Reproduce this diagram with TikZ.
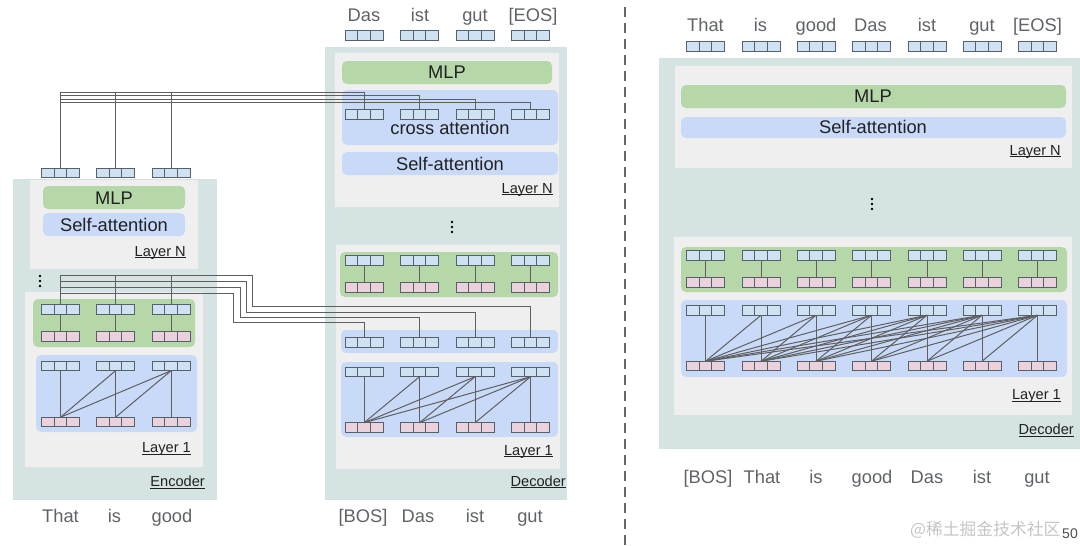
\documentclass[tikz,border=0pt]{standalone}
\usepackage{fontspec}
\setmainfont{Liberation Sans}
\newfontfamily\cjkfont{Noto Sans CJK SC}
\usetikzlibrary{calc}

\definecolor{outerc}{HTML}{D5E3E2}
\definecolor{innerc}{HTML}{EFEFEF}
\definecolor{greenc}{HTML}{B6D7A8}
\definecolor{bluec}{HTML}{C9DAF8}
\definecolor{tokbluec}{HTML}{CFE2F3}
\definecolor{tokpinkc}{HTML}{EAD1DC}
\definecolor{toklinec}{HTML}{56606B}
\definecolor{wirec}{HTML}{5F5F5F}
\definecolor{labc}{HTML}{5F6368}
\definecolor{dashc}{HTML}{666666}
\definecolor{txtc}{HTML}{202124}
\definecolor{wmc}{HTML}{C4C4C4}

\newcommand\myul[1]{\setbox0\hbox{#1}\rlap{\rule[-2.2pt]{\wd0}{1pt}}\box0}

\tikzset{
  tokbase/.style={draw=toklinec, line width=0.9pt, minimum width=38pt, minimum height=9.5pt,
    inner sep=0pt, outer sep=0pt,
    path picture={\draw[toklinec,line width=0.9pt]
      ([xshift=12.667pt]path picture bounding box.south west) -- ([xshift=12.667pt]path picture bounding box.north west)
      ([xshift=25.333pt]path picture bounding box.south west) -- ([xshift=25.333pt]path picture bounding box.north west);}},
  tokblue/.style={tokbase, fill=tokbluec},
  tokpink/.style={tokbase, fill=tokpinkc},
  wire/.style={draw=wirec, line width=1pt},
  bigtxt/.style={font=\fontsize{18.3}{20}\selectfont, text=txtc, inner sep=0pt, anchor=base},
  labtxt/.style={font=\fontsize{18.3}{20}\selectfont, text=labc, inner sep=0pt, anchor=base},
  smalltxt/.style={font=\fontsize{14.6}{16}\selectfont, text=txtc, inner sep=0pt, anchor=base east},
  outerbox/.style={fill=outerc},
  innerbox/.style={fill=innerc},
  greenbox/.style={fill=greenc, rounded corners=5pt},
  bluebox/.style={fill=bluec, rounded corners=5pt},
  vdot/.style={fill=black},
}

\begin{document}
\begin{tikzpicture}[x=1pt,y=-1pt]
\useasboundingbox (0,0) rectangle (1080,546);

% ================= ENCODER =================
\fill[outerbox] (13,179) rectangle (217,500);
\fill[innerbox] (30,180) rectangle (198,269);
\fill[greenbox] (43,186) rectangle (185,209);
\fill[bluebox] (43,213) rectangle (185,236);
\node[bigtxt] (encMLP) at (114,204) {MLP};
\node[bigtxt] (encSA) at (114,231.5) {Self-attention};
\node[smalltxt] (encLN) at (186,256) {\myul{Layer N}};
\foreach \yy in {276,281,286} \fill[vdot] (40,\yy) circle (1.4);
\fill[innerbox] (25,292) rectangle (203,467);
\fill[greenbox] (33,299) rectangle (195,347);
\fill[bluebox] (36,355) rectangle (197,432);
\node[smalltxt] (encL1) at (191,452.5) {\myul{Layer 1}};
\node[smalltxt] (encName) at (205,486.5) {\myul{Encoder}};

% ================= DECODER =================
\fill[outerbox] (325,47) rectangle (567,500);
\fill[innerbox] (335,53) rectangle (559,207);
\fill[greenbox] (342,61) rectangle (552,84);
\fill[bluebox] (342,90) rectangle (558,145);
\fill[bluebox] (342,152) rectangle (558,175);
\node[bigtxt] (decMLP) at (447,78.3) {MLP};
\node[bigtxt] (decCA) at (450,134) {cross attention};
\node[bigtxt] (decSA) at (450,170) {Self-attention};
\node[smalltxt] (decLN) at (553,193) {\myul{Layer N}};
\foreach \yy in {222,227,232} \fill[vdot] (452,\yy) circle (1.4);
\fill[innerbox] (336,245) rectangle (560,469);
\fill[greenbox] (340,252) rectangle (558,297);
\fill[bluebox] (341,330) rectangle (558,353);
\fill[bluebox] (341,362) rectangle (558,437);
\node[smalltxt] (decL1) at (553,455) {\myul{Layer 1}};
\node[smalltxt] (decName) at (566,486) {\myul{Decoder}};

% ================= DECODER-ONLY =================
\draw[draw=dashc, line width=2pt, dash pattern=on 9.5pt off 6.5pt] (625,7) -- (625,546);
\fill[outerbox] (659,58) rectangle (1080,449);
\fill[innerbox] (675,66) rectangle (1072,168);
\fill[greenbox] (681,85) rectangle (1066,108);
\fill[bluebox] (681,117) rectangle (1066,138);
\node[bigtxt] (rMLP) at (873,102.7) {MLP};
\node[bigtxt] (rSA) at (873,133.3) {Self-attention};
\node[smalltxt] (rLN) at (1061,155) {\myul{Layer N}};
\foreach \yy in {199,204,209} \fill[vdot] (872,\yy) circle (1.4);
\fill[innerbox] (674,237) rectangle (1072,415);
\fill[greenbox] (681,247) rectangle (1067,292);
\fill[bluebox] (681,300) rectangle (1067,377);
\node[smalltxt] (rL1) at (1061,399.5) {\myul{Layer 1}};
\node[smalltxt] (rName) at (1074,434.5) {\myul{Decoder}};

% ================= TOKENS =================
% encoder
\foreach \x [count=\i] in {60.5,115.5,171} {
  \node[tokblue] (eN\i) at (\x,173) {};
  \node[tokblue] (egT\i) at (\x,309.5) {};
  \node[tokpink] (egB\i) at (\x,336.5) {};
  \node[tokblue] (esT\i) at (\x,366) {};
  \node[tokpink] (esB\i) at (\x,422) {};
}
% decoder
\foreach \x [count=\i] in {364,419.5,475,530.5} {
  \node[tokblue] (dO\i) at (\x,35.5) {};
  \node[tokblue] (dX\i) at (\x,114.5) {};
  \node[tokblue] (dgT\i) at (\x,260.5) {};
  \node[tokpink] (dgB\i) at (\x,287.5) {};
  \node[tokblue] (dc\i) at (\x,342.5) {};
  \node[tokblue] (dsT\i) at (\x,372) {};
  \node[tokpink] (dsB\i) at (\x,427.5) {};
}
% decoder-only
\foreach \x [count=\i] in {705.5,761,816,871.5,927,982,1037.5} {
  \node[tokblue] (rT\i) at (\x,46.5) {};
  \node[tokblue] (rgT\i) at (\x,255.5) {};
  \node[tokpink] (rgB\i) at (\x,282.5) {};
  \node[tokblue] (rsT\i) at (\x,310.5) {};
  \node[tokpink] (rsB\i) at (\x,366) {};
}

% ================= CONNECTORS =================
% MLP verticals
\foreach \i in {1,2,3} \draw[wire] (egT\i.south) -- (egB\i.north);
\foreach \i in {1,...,4} \draw[wire] (dgT\i.south) -- (dgB\i.north);
\foreach \i in {1,...,7} \draw[wire] (rgT\i.south) -- (rgB\i.north);
% self-attention (causal)
\foreach \j in {1,2,3} \foreach \i in {1,...,\j} \draw[wire] (esT\j.south) -- (esB\i.north);
\foreach \j in {1,...,4} \foreach \i in {1,...,\j} \draw[wire] (dsT\j.south) -- (dsB\i.north);
\foreach \j in {1,...,7} \foreach \i in {1,...,\j} \draw[wire] (rsT\j.south) -- (rsB\i.north);

% upper bus: encoder layer N -> decoder layer N cross attention
\coordinate (ub1) at (0,92);
\coordinate (ub2) at (0,95.5);
\coordinate (ub3) at (0,99);
\coordinate (ub4) at (0,102.5);
\foreach \i in {1,2,3} \draw[wire] (eN\i.north) -- (eN\i.north |- ub1);
\foreach \k in {1,...,4} \draw[wire] (eN1.north |- ub\k) -- (dX\k.north |- ub\k) -- (dX\k.north);

% lower bus: encoder layer 1 -> decoder layer 1 cross attention
\coordinate (la1) at (0,275);   \coordinate (tx1) at (252,0);  \coordinate (lb1) at (0,306);
\coordinate (la2) at (0,281);   \coordinate (tx2) at (246,0);  \coordinate (lb2) at (0,312);
\coordinate (la3) at (0,287);   \coordinate (tx3) at (240,0);  \coordinate (lb3) at (0,317);
\coordinate (la4) at (0,293);   \coordinate (tx4) at (233,0);  \coordinate (lb4) at (0,322.5);
\foreach \i in {1,2,3} \draw[wire] (egT\i.north) -- (egT\i.north |- la1);
\foreach \k/\t in {1/4,2/3,3/2,4/1}
  \draw[wire] (egT1.north |- la\k) -- (tx\k |- la\k) -- (tx\k |- lb\k) -- (dc\t.north |- lb\k) -- (dc\t.north);

% ================= LABELS =================
\foreach \x/\w [count=\i] in {60.5/That,114.5/is,172/good}
  \node[labtxt] (eIn\i) at (\x,522) {\w};
\foreach \x/\w [count=\i] in {363/[BOS],418/Das,475/ist,530/gut}
  \node[labtxt] (dIn\i) at (\x,522) {\w};
\foreach \x/\w [count=\i] in {364/Das,420/ist,475/gut,533/[EOS]}
  \node[labtxt] (dOut\i) at (\x,21) {\w};
\foreach \x/\w [count=\i] in {705.5/That,760.5/is,816/good,870.5/Das,927/ist,982/gut,1037.5/[EOS]}
  \node[labtxt] (rOut\i) at (\x,31.5) {\w};
\foreach \x/\w [count=\i] in {708/[BOS],762/That,816/is,872/good,927/Das,982/ist,1037/gut}
  \node[labtxt] (rIn\i) at (\x,483.5) {\w};

% watermark
\node[font=\cjkfont\fontsize{16.8}{17}\selectfont, text=wmc, anchor=base west, inner sep=0pt] (wm) at (910,535) {@稀土掘金技术社区};
\node[font=\fontsize{14}{14}\selectfont, text=txtc!80, anchor=base east, inner sep=0pt] (pg) at (1078,538) {50};
\end{tikzpicture}
\end{document}
